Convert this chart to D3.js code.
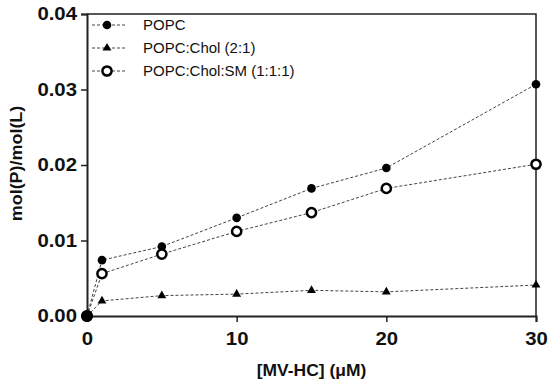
<!DOCTYPE html>
<html>
<head>
<meta charset="utf-8">
<script src="https://cdn.jsdelivr.net/npm/d3@7"></script>
<style>
body { margin: 0; background: #fff; }
svg { display: block; font-family: "Liberation Sans", Arial, sans-serif; }
</style>
</head>
<body>
<div id="chart"></div>
<script>
// values
const conc = [0, 1, 5, 10, 15, 20, 30];
const popc = [0, 0.0074, 0.0092, 0.0130, 0.0169, 0.0196, 0.0307];
const popcChol = [0, 0.0020, 0.0027, 0.0029, 0.0034, 0.0032, 0.0041];
const popcCholSm = [0, 0.0056, 0.0082, 0.0112, 0.0137, 0.0169, 0.0201];
const seriesNames = ["POPC", "POPC:Chol (2:1)", "POPC:Chol:SM (1:1:1)"];
const xTicks = [0, 10, 20, 30];
const yTicks = [0, 0.01, 0.02, 0.03, 0.04];

const width = 550, height = 385;
const margin = {left: 87, right: 14, top: 14, bottom: 69};

const svg = d3.select("#chart").append("svg")
    .attr("width", width)
    .attr("height", height);

const x = d3.scaleLinear().domain([0, 30]).range([margin.left, width - margin.right]);
const y = d3.scaleLinear().domain([0, 0.04]).range([height - margin.bottom, margin.top]);

// the original figure is a bit wider than tall, text looks stretched sideways
function stretch(sel, f) {
    sel.each(function() {
        const w = this.getComputedTextLength();
        d3.select(this).attr("textLength", w * f).attr("lengthAdjust", "spacingAndGlyphs");
    });
}

// frame (top + right)
svg.append("path")
    .attr("d", `M${x(0)},${y(0.04)}H${x(30)}V${y(0)}`)
    .attr("fill", "none")
    .attr("stroke", "#222")
    .attr("stroke-width", 1.5);

const xAxis = svg.append("g")
    .attr("transform", `translate(0,${y(0)})`)
    .call(d3.axisBottom(x).tickValues(xTicks).tickSize(6).tickPadding(10).tickFormat(d3.format("d")));
const yAxis = svg.append("g")
    .attr("transform", `translate(${x(0)},0)`)
    .call(d3.axisLeft(y).tickValues(yTicks).tickSize(6).tickPadding(4).tickFormat(d3.format(".2f")));

[xAxis, yAxis].forEach(a => {
    a.select(".domain").attr("stroke", "#222").attr("stroke-width", 2);
    a.selectAll(".tick line").attr("stroke", "#222").attr("stroke-width", 1.5);
    a.selectAll(".tick text")
        .attr("fill", "#111")
        .style("font-size", "18px")
        .style("font-weight", "bold")
        .style("font-family", "'Liberation Sans', Arial, sans-serif")
        .call(stretch, 1.13);
});

svg.append("text")
    .attr("x", x(15))
    .attr("y", 376)
    .attr("text-anchor", "middle")
    .style("font-size", "16px")
    .style("font-weight", "bold")
    .attr("fill", "#111")
    .text("[MV-HC] (μM)")
    .call(stretch, 1.09);

svg.append("text")
    .attr("transform", `translate(22,${y(0.0202)}) rotate(-90)`)
    .attr("text-anchor", "middle")
    .style("font-size", "16px")
    .style("font-weight", "bold")
    .attr("fill", "#111")
    .text("mol(P)/mol(L)")
    .call(stretch, 1.12);

const line = d3.line().x((d, i) => x(conc[i])).y(d => y(d));

function drawLine(vals) {
    svg.append("path")
        .datum(vals)
        .attr("d", line)
        .attr("fill", "none")
        .attr("stroke", "#444")
        .attr("stroke-width", 1)
        .attr("stroke-dasharray", "3,2");
}

function marker(g, kind) {
    if (kind === 0) {
        g.append("circle").attr("r", 4.3).attr("fill", "#000");
    } else if (kind === 1) {
        g.append("path").attr("d", d3.symbol(d3.symbolTriangle, 34)()).attr("fill", "#000");
    } else {
        g.append("circle").attr("r", 4.6).attr("fill", "#fff")
            .attr("stroke", "#000").attr("stroke-width", 2.5);
    }
}

const allSeries = [popc, popcChol, popcCholSm];
allSeries.forEach(drawLine);
allSeries.forEach((vals, k) => {
    vals.forEach((v, i) => {
        const g = svg.append("g").attr("transform", `translate(${x(conc[i])},${y(v)})`);
        marker(g, k);
    });
});
// origin: overlapping markers read as one solid blob
svg.append("circle").attr("cx", x(0)).attr("cy", y(0)).attr("r", 6).attr("fill", "#000");

// legend
const legend = svg.append("g");
seriesNames.forEach((name, k) => {
    const ly = 25 + k * 23;
    legend.append("line")
        .attr("x1", 92).attr("x2", 125).attr("y1", ly).attr("y2", ly)
        .attr("stroke", "#444").attr("stroke-width", 1).attr("stroke-dasharray", "3,2");
    marker(legend.append("g").attr("transform", `translate(107,${ly})`), k);
    legend.append("text")
        .attr("x", 143).attr("y", ly + 5)
        .style("font-size", "14px")
        .attr("fill", "#111")
        .text(name)
        .call(stretch, 1.07);
});
</script>
</body>
</html>
